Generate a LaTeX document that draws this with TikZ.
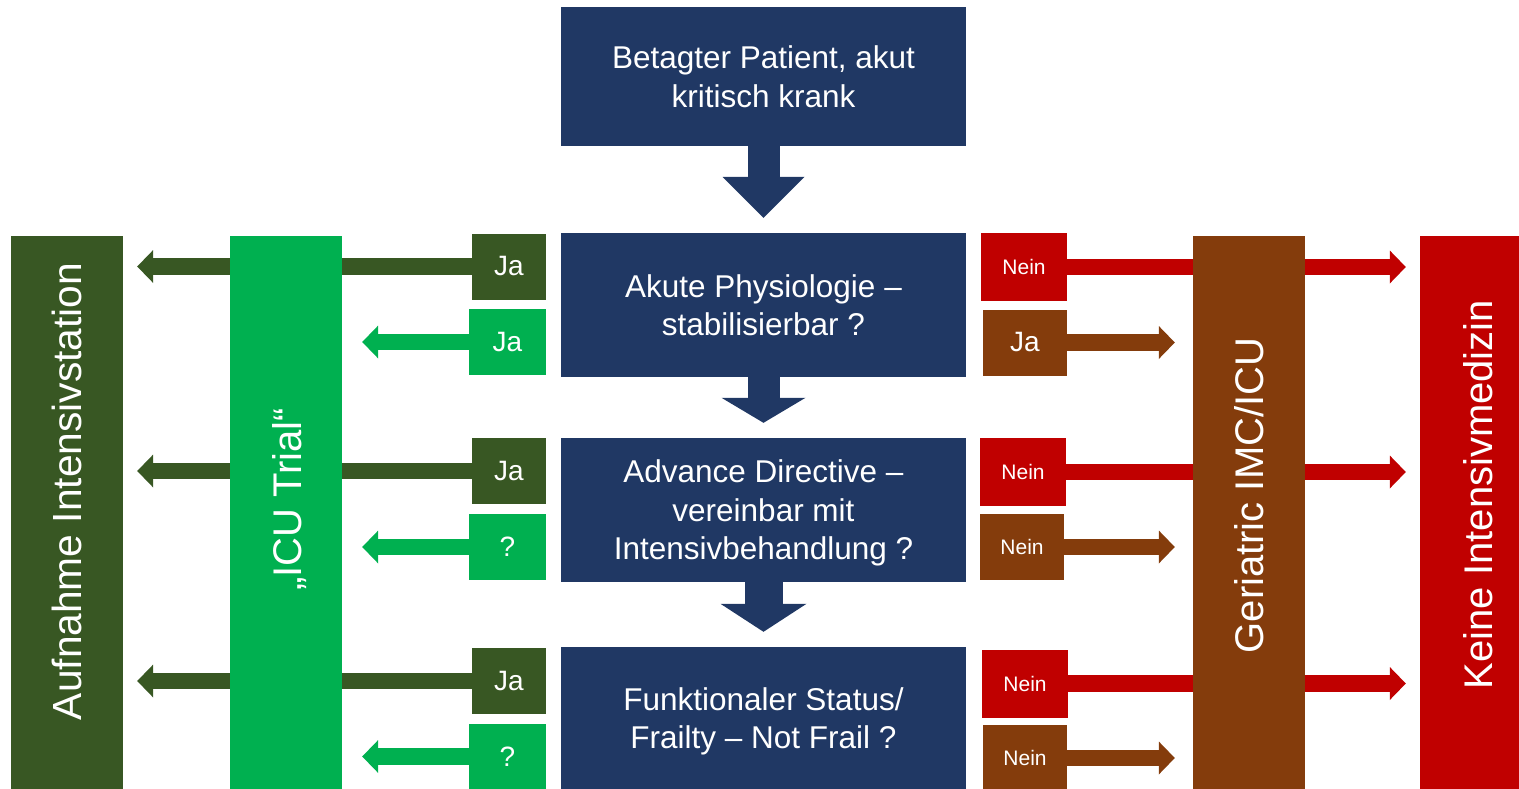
\documentclass[tikz,border=0pt]{standalone}
\usepackage{fontspec}
\setmainfont{Liberation Sans}
\usetikzlibrary{arrows.meta}

\definecolor{boxblue}{HTML}{203864}
\definecolor{yesgreen}{HTML}{385723}
\definecolor{trialgreen}{HTML}{00B050}
\definecolor{nored}{HTML}{C00000}
\definecolor{geribrown}{HTML}{843C0C}

\tikzset{
  question/.style={fill=boxblue, text=white, align=center, inner sep=0pt, minimum width=405pt, text depth=0pt, font=\fontsize{31.5}{38.5}\selectfont},
  answer/.style={text=white, inner sep=0pt, minimum height=66pt, font=\fontsize{28}{30}\selectfont},
  small/.style={font=\fontsize{21}{24}\selectfont},
  yesbox/.style={answer, fill=yesgreen, minimum width=74pt},
  trialbox/.style={answer, fill=trialgreen, minimum width=77pt},
  nobox/.style={answer, small, fill=nored, minimum width=86pt, minimum height=68pt},
  geribox/.style={answer, fill=geribrown, minimum width=84pt},
  outcome/.style={inner sep=0pt, minimum width=112pt, minimum height=564pt},
  outcometext/.style={text=white, rotate=90, inner sep=0pt, text depth=0pt, font=\fontsize{40}{44}\selectfont},
  flow/.style={draw=boxblue, line width=32pt, -{Triangle[width=82pt, length=#1, line width=0pt]}, shorten >=15pt},
  side/.style={draw=#1, line width=16.5pt, -{Triangle[width=33pt, length=16pt, line width=0pt]}},
}

\begin{document}
\begin{tikzpicture}[x=1pt, y=-1pt]
  \useasboundingbox (0,0) rectangle (1519,789);
  \clip (0,0) rectangle (1519,789);

  % Decision chain in the middle
  \node[question, minimum height=139pt] (patient) at (763.5,76.5) {Betagter Patient, akut\\kritisch krank};
  \node[question, minimum height=144pt] (physio) at (763.5,305) {Akute Physiologie –\\stabilisierbar ?};
  \node[question, minimum height=144pt] (directive) at (763.5,510) {Advance Directive –\\vereinbar mit\\Intensivbehandlung ?};
  \node[question, minimum height=142pt] (frailty) at (763.5,718) {Funktionaler Status/\\Frailty – Not Frail ?};

  \draw[flow=41pt] (patient.south) -- (physio.north);
  \draw[flow=25pt, -{Triangle[width=84pt, length=25pt, line width=0pt]}] (physio.south) -- (directive.north);
  \draw[flow=28pt, line width=38pt, -{Triangle[width=86pt, length=28pt, line width=0pt]}] (directive.south) -- (frailty.north);

  % Outer outcome bars
  \node[outcome, fill=yesgreen] (aufnahme) at (67,518) {};
  \node[outcometext, font=\fontsize{40.7}{44}\selectfont] (aufnahmetext) at (67,491.5) {Aufnahme Intensivstation};
  \node[outcome, fill=nored] (keine) at (1476,518) {};
  \node[outcometext] (keinetext) at (1477.5,494.5) {Keine Intensivmedizin};

  % Answers left of the chain
  \node[yesbox] (jaA) at (509,266.5) {Ja};
  \node[trialbox] (trialA) at (507.5,342) {Ja};
  \node[yesbox] (jaB) at (509,471) {Ja};
  \node[trialbox] (trialB) at (507.5,547) {?};
  \node[yesbox] (jaC) at (509,681) {Ja};
  \node[trialbox] (trialC) at (507.5,756.5) {?};

  % Answers right of the chain
  \node[nobox] (neinA) at (1024,267) {Nein};
  \node[geribox] (geriA) at (1025,342.5) {Ja};
  \node[nobox] (neinB) at (1023,472) {Nein};
  \node[geribox, small] (geriB) at (1022,547) {Nein};
  \node[nobox] (neinC) at (1025,683.5) {Nein};
  \node[geribox, small] (geriC) at (1025,758) {Nein};

  % Long arrows, passing behind the inner bars
  \draw[side=yesgreen, shorten >=14pt] (jaA.west) -- (jaA.west -| aufnahme.east);
  \draw[side=yesgreen, shorten >=14pt] (jaB.west) -- (jaB.west -| aufnahme.east);
  \draw[side=yesgreen, shorten >=14pt] (jaC.west) -- (jaC.west -| aufnahme.east);
  \draw[side=nored, shorten >=14pt] (neinA.east) -- (neinA.east -| keine.west);
  \draw[side=nored, shorten >=14pt] (neinB.east) -- (neinB.east -| keine.west);
  \draw[side=nored, shorten >=14pt] (neinC.east) -- (neinC.east -| keine.west);

  % Inner outcome bars
  \node[outcome, fill=trialgreen] (trial) at (286,518) {};
  \node[outcometext] (trialtext) at (287,499.5) {„ICU Trial“};
  \node[outcome, fill=geribrown] (geriatric) at (1249,518) {};
  \node[outcometext] (geriatrictext) at (1249,495.5) {Geriatric IMC/ICU};

  % Short arrows
  \draw[side=trialgreen, shorten >=20pt] (trialA.west) -- (trialA.west -| trial.east);
  \draw[side=trialgreen, shorten >=20pt] (trialB.west) -- (trialB.west -| trial.east);
  \draw[side=trialgreen, shorten >=20pt] (trialC.west) -- (trialC.west -| trial.east);
  \draw[side=geribrown, shorten >=18pt] (geriA.east) -- (geriA.east -| geriatric.west);
  \draw[side=geribrown, shorten >=18pt] (geriB.east) -- (geriB.east -| geriatric.west);
  \draw[side=geribrown, shorten >=18pt] (geriC.east) -- (geriC.east -| geriatric.west);
\end{tikzpicture}
\end{document}
